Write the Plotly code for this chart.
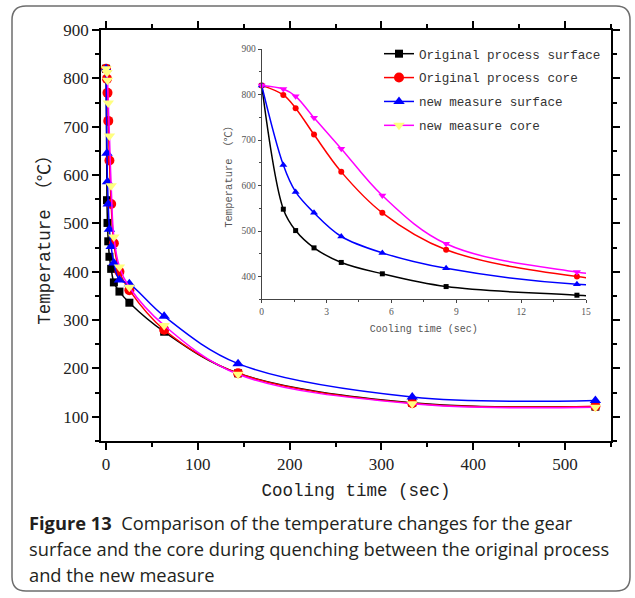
import plotly.graph_objects as go

# ---------------- data ----------------
time_s = [0, 1.0, 1.57, 2.42, 3.68, 5.58, 8.53, 14.58, 25.4, 63.3, 143.8, 333.5, 533]
orig_surface = [820, 548, 501, 463, 431, 406, 378, 359, 336, 276, 190, 129, 121]
orig_core = [820, 799, 770, 712, 630, 540, 459, 400, 362, 280, 190, 128, 122]
new_surface = [820, 645, 586, 540, 488, 452, 418, 383, 375, 308, 210, 141, 134]
new_core = [820, 812, 796, 749, 681, 578, 472, 410, 368, 289, 188, 127, 120]
series_names = ["Original process surface", "Original process core",
                "new measure surface", "new measure core"]
n_inset = 8  # points shown inside the 0-15 s inset

main_x_ticks = [0, 100, 200, 300, 400, 500]
main_y_ticks = [100, 200, 300, 400, 500, 600, 700, 800, 900]
inset_x_ticks = [0, 3, 6, 9, 12, 15]
inset_y_ticks = [400, 500, 600, 700, 800, 900]

caption_lines = [
    "<b>Figure 13</b>  Comparison of the temperature changes for the gear",
    "surface and the core during quenching between the original process",
    "and the new measure",
]

# ---------------- styles ----------------
W, H = 635, 598
L, R, T, B = 101, 611, 30, 441  # main plot box in px

def px2x(px):
    return (px - L) / (R - L)

def py2y(py):
    return (B - py) / (B - T)

line_cols = ["#000000", "#FF0000", "#0000FF", "#FF00FF"]
main_marker_cols = ["#000000", "#FF0000", "#0000FF", "#FFFF80"]
inset_marker_cols = ["#000000", "#FF0000", "#0000FF", "#FF00FF"]
symbols = ["square", "circle", "triangle-up", "triangle-down"]
main_sizes = [8, 10, 10, 10]
inset_sizes = [5, 6, 7, 7]
values = [orig_surface, orig_core, new_surface, new_core]

mono = "Liberation Mono, Noto Sans CJK SC, monospace"
serif = "Liberation Serif"

fig = go.Figure()

for i in range(4):
    fig.add_trace(go.Scatter(
        x=time_s, y=values[i], mode="lines+markers", name=series_names[i],
        line=dict(color=line_cols[i], width=1.5, shape="spline", smoothing=1.0),
        marker=dict(symbol=symbols[i], size=main_sizes[i], color=main_marker_cols[i],
                    line=dict(width=0)),
        legendgroup=f"g{i}", showlegend=True, xaxis="x", yaxis="y",
    ))

for i in range(4):
    fig.add_trace(go.Scatter(
        x=time_s, y=values[i], mode="lines",
        line=dict(color=line_cols[i], width=1.5, shape="spline", smoothing=1.0),
        showlegend=False, xaxis="x2", yaxis="y2", hoverinfo="skip",
    ))
    fig.add_trace(go.Scatter(
        x=time_s[:n_inset], y=values[i][:n_inset], mode="markers",
        marker=dict(symbol=symbols[i], size=inset_sizes[i], color=inset_marker_cols[i],
                    line=dict(width=0)),
        showlegend=False, xaxis="x2", yaxis="y2", cliponaxis=False,
    ))

axis_common = dict(showgrid=False, zeroline=False, showline=True, linecolor="#000",
                   linewidth=1.5, ticks="outside", tickcolor="#000", tickwidth=1.5,
                   ticklen=7, mirror="allticks")

fig.update_layout(
    width=W, height=H,
    margin=dict(l=L, r=W - R, t=T, b=H - B),
    paper_bgcolor="white", plot_bgcolor="white",
    showlegend=True,
    xaxis=dict(**axis_common, range=[-5.5, 550], tickvals=main_x_ticks,
               minor=dict(dtick=50, tick0=0, ticks="outside", ticklen=4, tickcolor="#000", tickwidth=1.5),
               tickfont=dict(family=serif, size=17, color="#222"),
               title=dict(text="Cooling time (sec)", font=dict(family=mono, size=17.5, color="#222"),
                          standoff=11)),
    yaxis=dict(**axis_common, range=[50, 900], tickvals=main_y_ticks,
               minor=dict(dtick=50, tick0=0, ticks="outside", ticklen=4, tickcolor="#000", tickwidth=1.5),
               tickfont=dict(family=serif, size=17, color="#222"),
               title=dict(text="Temperature （℃）", font=dict(family=mono, size=17.5, color="#222"),
                          standoff=8)),
    xaxis2=dict(domain=[px2x(261.7), px2x(586)], anchor="y2", range=[0, 15],
                tickvals=inset_x_ticks, showgrid=False, zeroline=False, showline=True,
                linecolor="#444", linewidth=1, ticks="outside", ticklen=3, tickcolor="#444",
                minor=dict(dtick=1.5, tick0=0, ticks="outside", ticklen=2, tickcolor="#444"),
                tickfont=dict(family=serif, size=9.5, color="#555"),
                title=dict(text="Cooling time (sec)", font=dict(family=mono, size=10, color="#555"),
                           standoff=9)),
    yaxis2=dict(domain=[py2y(299.3), py2y(49)], anchor="x2", range=[350, 900],
                tickvals=inset_y_ticks, showgrid=False, zeroline=False, showline=True,
                linecolor="#444", linewidth=1, ticks="outside", ticklen=3, tickcolor="#444",
                minor=dict(dtick=50, tick0=0, ticks="outside", ticklen=2, tickcolor="#444"),
                tickfont=dict(family=serif, size=9.5, color="#555"),
                title=dict(text="Temperature （℃）", font=dict(family=mono, size=10.5, color="#555"),
                           standoff=6)),
    legend=dict(x=px2x(379), y=py2y(39), xanchor="left", yanchor="top",
                bgcolor="rgba(0,0,0,0)", borderwidth=0,
                font=dict(family=mono, size=12.6, color="#333"),
                tracegroupgap=4.5, itemsizing="trace"),
)

# caption
cap_y = [522, 548, 574]
for txt, yy in zip(caption_lines, cap_y):
    fig.add_annotation(text=txt, xref="paper", yref="paper", x=px2x(27), y=py2y(yy),
                       xanchor="left", yanchor="middle", showarrow=False,
                       font=dict(family="Open Sans, sans-serif", size=18.3, color="#231f20"))

# rounded outer frame
x0, x1, y0, y1, r = 12, 630, 6, 591, 14
X = px2x
Y = py2y
path = (f"M{X(x0 + r)},{Y(y0)} L{X(x1 - r)},{Y(y0)} Q{X(x1)},{Y(y0)} {X(x1)},{Y(y0 + r)} "
        f"L{X(x1)},{Y(y1 - r)} Q{X(x1)},{Y(y1)} {X(x1 - r)},{Y(y1)} "
        f"L{X(x0 + r)},{Y(y1)} Q{X(x0)},{Y(y1)} {X(x0)},{Y(y1 - r)} "
        f"L{X(x0)},{Y(y0 + r)} Q{X(x0)},{Y(y0)} {X(x0 + r)},{Y(y0)} Z")
fig.add_shape(type="path", path=path, xref="paper", yref="paper",
              line=dict(color="#6d6d6d", width=1.5), layer="below")

fig.write_html("out.html")
